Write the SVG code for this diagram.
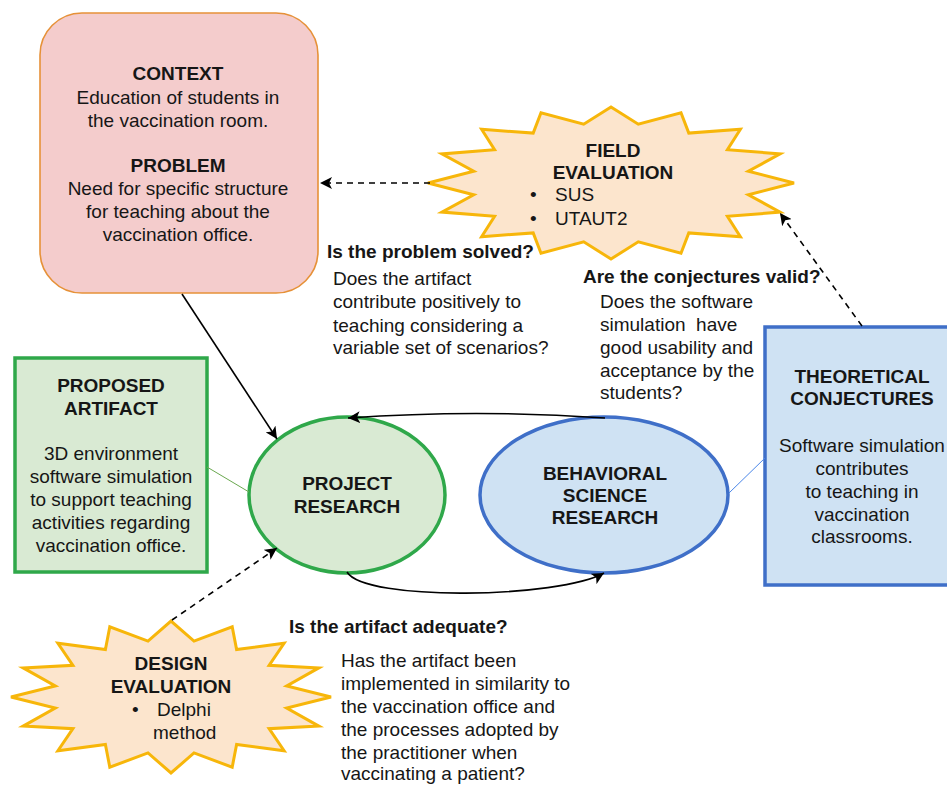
<svg xmlns="http://www.w3.org/2000/svg" width="947" height="785" viewBox="0 0 947 785">
  <style>
    text { font-family: "Liberation Sans", Arial, sans-serif; font-size: 19px; fill: #161616; }
    .b { font-weight: bold; }
    .c { text-anchor: middle; }
    .star { fill: #fce5cd; stroke: #f7b60a; stroke-width: 3; stroke-linejoin: miter; }
    .green { fill: #d9ead3; stroke: #2fa84a; stroke-width: 3.5; }
    .blue { fill: #cfe2f3; stroke: #3f6fc8; stroke-width: 3.5; }
    .arrow { fill: none; stroke: #000; stroke-width: 1.6; }
    .dash { stroke-dasharray: 6 5; }
  </style>
  <defs>
    <marker id="head" markerUnits="userSpaceOnUse" markerWidth="14" markerHeight="12" refX="12" refY="6" orient="auto">
      <path d="M0,0 L12,6 L0,12 L3,6 Z" fill="#000"/>
    </marker>
  </defs>
  <rect width="947" height="785" fill="#fff"/>

  <!-- context / problem -->
  <g id="context">
    <rect x="40" y="13" width="278" height="280" rx="42" ry="42" fill="#f4cccc" stroke="#e69138" stroke-width="1.6"/>
    <text class="b c" x="178" y="80">CONTEXT</text>
    <text class="c" x="178" y="104">Education of students in</text>
    <text class="c" x="178" y="127">the vaccination room.</text>
    <text class="b c" x="178" y="172">PROBLEM</text>
    <text class="c" x="178" y="195">Need for specific structure</text>
    <text class="c" x="178" y="218">for teaching about the</text>
    <text class="c" x="178" y="241">vaccination office.</text>
  </g>

  <!-- field evaluation -->
  <g id="field-evaluation">
    <polygon class="star" points="794,183 748.3,194.7 780.1,212.1 727.4,216.3 740.4,236.7 688.8,232.9 681,253.2 638.3,241.8 611,259 583.7,241.8 541,253.2 533.2,232.9 481.6,236.7 494.6,216.3 441.9,212.1 473.7,194.7 428,183 473.7,171.3 441.9,153.9 494.6,149.7 481.6,129.3 533.2,133.1 541,112.8 583.7,124.2 611,107 638.3,124.2 681,112.8 688.8,133.1 740.4,129.3 727.4,149.7 780.1,153.9 748.3,171.3"/>
    <text class="b c" x="613" y="157">FIELD</text>
    <text class="b c" x="613" y="179">EVALUATION</text>
    <text x="530" y="201">•</text>
    <text x="555" y="201">SUS</text>
    <text x="530" y="225">•</text>
    <text x="555" y="225">UTAUT2</text>
  </g>

  <!-- proposed artifact -->
  <g id="proposed-artifact">
    <rect class="green" x="15" y="358" width="192" height="214"/>
    <text class="b c" x="111" y="392">PROPOSED</text>
    <text class="b c" x="111" y="415">ARTIFACT</text>
    <text class="c" x="111" y="460">3D environment</text>
    <text class="c" x="111" y="483">software simulation</text>
    <text class="c" x="111" y="506">to support teaching</text>
    <text class="c" x="111" y="529">activities regarding</text>
    <text class="c" x="111" y="552">vaccination office.</text>
  </g>

  <!-- project research -->
  <g id="project-research">
    <ellipse class="green" cx="347" cy="495" rx="98" ry="78"/>
    <text class="b c" x="347" y="490">PROJECT</text>
    <text class="b c" x="347" y="513">RESEARCH</text>
  </g>

  <!-- behavioral science research -->
  <g id="behavioral-research">
    <ellipse class="blue" cx="604" cy="495" rx="124" ry="78"/>
    <text class="b c" x="605" y="480">BEHAVIORAL</text>
    <text class="b c" x="605" y="502">SCIENCE</text>
    <text class="b c" x="605" y="524">RESEARCH</text>
  </g>

  <!-- theoretical conjectures -->
  <g id="theoretical-conjectures">
    <rect class="blue" x="765" y="327" width="200" height="258"/>
    <text class="b c" x="862" y="383">THEORETICAL</text>
    <text class="b c" x="862" y="405">CONJECTURES</text>
    <text class="c" x="862" y="452">Software simulation</text>
    <text class="c" x="862" y="475">contributes</text>
    <text class="c" x="862" y="498">to teaching in</text>
    <text class="c" x="862" y="521">vaccination</text>
    <text class="c" x="862" y="543">classrooms.</text>
  </g>

  <!-- design evaluation -->
  <g id="design-evaluation">
    <polygon class="star" points="331,697 286.7,708.1 318.8,726.1 269.1,728.7 284.1,750.7 236.6,744.4 232.2,767.2 194,752.9 171,773 148,752.9 109.8,767.2 105.4,744.4 57.9,750.7 72.9,728.7 23.2,726.1 55.3,708.1 11,697 55.3,685.9 23.2,667.9 72.9,665.3 57.9,643.3 105.4,649.6 109.8,626.8 148,641.1 171,621 194,641.1 232.2,626.8 236.6,649.6 284.1,643.3 269.1,665.3 318.8,667.9 286.7,685.9"/>
    <text class="b c" x="171" y="670">DESIGN</text>
    <text class="b c" x="171" y="693">EVALUATION</text>
    <text x="132" y="716">•</text>
    <text x="157" y="716">Delphi</text>
    <text x="153" y="739">method</text>
  </g>

  <!-- questions -->
  <g id="question-problem">
    <text class="b" x="327" y="258">Is the problem solved?</text>
    <text x="333" y="285">Does the artifact</text>
    <text x="333" y="308">contribute positively to</text>
    <text x="333" y="332">teaching considering a</text>
    <text x="333" y="354">variable set of scenarios?</text>
  </g>
  <g id="question-conjectures">
    <text class="b" x="583" y="283">Are the conjectures valid?</text>
    <text x="600" y="308">Does the software</text>
    <text x="600" y="331" xml:space="preserve">simulation  have</text>
    <text x="600" y="354">good usability and</text>
    <text x="600" y="377">acceptance by the</text>
    <text x="600" y="399">students?</text>
  </g>
  <g id="question-artifact">
    <text class="b" x="289" y="633">Is the artifact adequate?</text>
    <text x="341" y="667">Has the artifact been</text>
    <text x="341" y="690">implemented in similarity to</text>
    <text x="341" y="713">the vaccination office and</text>
    <text x="341" y="736">the processes adopted by</text>
    <text x="341" y="759">the practitioner when</text>
    <text x="341" y="780">vaccinating a patient?</text>
  </g>

  <!-- connectors -->
  <g id="connectors">
    <path d="M207,467 L249,492" fill="none" stroke="#6aa84f" stroke-width="1"/>
    <path d="M729,493 L765,458" fill="none" stroke="#4a86e8" stroke-width="1"/>
    <path class="arrow" d="M182,294 L277,439" marker-end="url(#head)"/>
    <path class="arrow" d="M605,418 Q476,409 348,418" marker-end="url(#head)"/>
    <path class="arrow" d="M347,572 C365,602 560,598 604,573" marker-end="url(#head)"/>
    <path class="arrow dash" d="M430,183 L320,183" marker-end="url(#head)"/>
    <path class="arrow dash" d="M862,326 L780,213" marker-end="url(#head)"/>
    <path class="arrow dash" d="M172,620 L277,548" marker-end="url(#head)"/>
  </g>
</svg>
